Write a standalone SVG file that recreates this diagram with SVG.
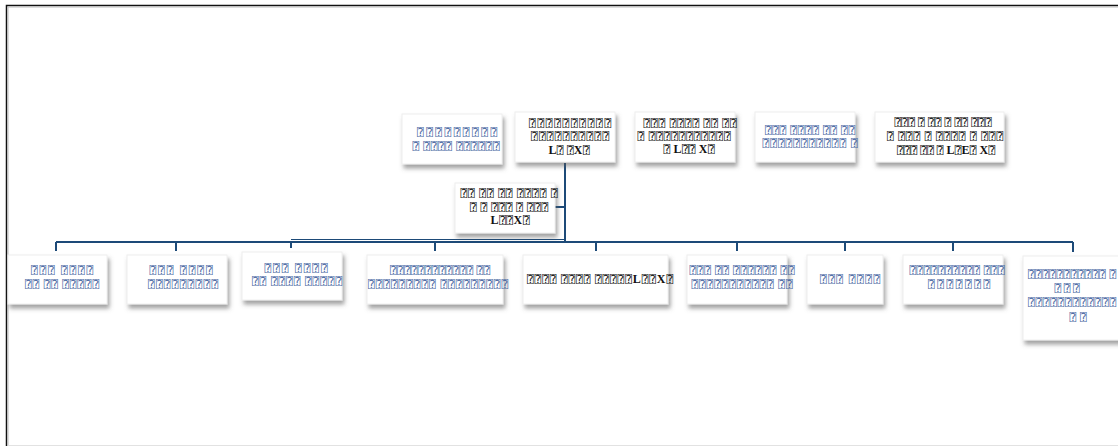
<svg xmlns="http://www.w3.org/2000/svg" width="1118" height="446" viewBox="0 0 1118 446">
<defs>
<filter id="sh" x="-20%" y="-20%" width="140%" height="160%">
<feDropShadow dx="2" dy="4" stdDeviation="2" flood-color="#555" flood-opacity="0.55"/>
</filter>
<style>
.box{fill:#fff;stroke:#eeeeee;stroke-width:1;filter:url(#sh)}
text{font-family:"Liberation Serif","DejaVu Sans Mono",serif;font-size:11px;text-anchor:middle}
.b{fill:#4a68a3}
.k{fill:#111}
.bd{font-weight:bold;font-size:12px}
.s{text-anchor:start}
.c{fill:none;stroke:#1d4a78;stroke-width:2}
</style>
</defs>
<rect width="1118" height="446" fill="#fff"/>
<path d="M6.5,446 V5.5 H1118" fill="none" stroke="#111" stroke-width="1.5"/>
<path d="M8,446 V7 H1118" fill="none" stroke="#bbb" stroke-width="1"/>
<line x1="8" y1="445.5" x2="1118" y2="445.5" stroke="#e2e2e2" stroke-width="1"/>

<g id="connectors">
<path class="c" d="M565,163 V242"/>
<path class="c" d="M555,207 H565"/>
<path class="c" d="M56,242 H1073"/>
<path d="M291,239.5 H565" fill="none" stroke="#1d4a78" stroke-width="1.2"/>
<path class="c" d="M56,242 V251 M176,242 V251 M291,242 V248 M435,242 V251 M596,242 V251 M737,242 V251 M845,242 V251 M953,242 V251 M1073,242 V252"/>
</g>

<g id="top1"><rect class="box" x="402" y="114" width="100" height="50"/>
<text class="b" x="457" y="136" textLength="80" lengthAdjust="spacing">⍰⍰⍰⍰⍰⍰⍰⍰⍰</text>
<text class="b" x="456" y="150" textLength="87" lengthAdjust="spacing">⍰ ⍰⍰⍰⍰ ⍰⍰⍰⍰⍰⍰</text></g>

<g id="top2"><rect class="box" x="515" y="112" width="100" height="50"/>
<text class="k" x="570" y="127" textLength="82" lengthAdjust="spacing">⍰⍰⍰⍰⍰⍰⍰⍰⍰⍰</text>
<text class="k" x="570" y="140" textLength="78" lengthAdjust="spacing">⍰⍰⍰⍰⍰⍰⍰⍰⍰⍰</text>
<text class="k" x="569" y="154" textLength="41" lengthAdjust="spacing"><tspan class="bd">L</tspan>⍰ ⍰<tspan class="bd">X</tspan>⍰</text></g>

<g id="top3"><rect class="box" x="635" y="112" width="100" height="50"/>
<text class="k" x="690" y="127" textLength="93" lengthAdjust="spacing">⍰⍰⍰ ⍰⍰⍰⍰ ⍰⍰ ⍰⍰</text>
<text class="k" x="684" y="140" textLength="93" lengthAdjust="spacing">⍰ ⍰⍰⍰⍰⍰⍰⍰⍰⍰⍰⍰</text>
<text class="k" x="689" y="153" textLength="51" lengthAdjust="spacing">⍰ <tspan class="bd">L</tspan>⍰⍰ <tspan class="bd">X</tspan>⍰</text></g>

<g id="top4"><rect class="box" x="755" y="112" width="100" height="50"/>
<text class="b" x="810" y="134" textLength="90" lengthAdjust="spacing">⍰⍰⍰ ⍰⍰⍰⍰ ⍰⍰ ⍰⍰</text>
<text class="b" x="810" y="147" textLength="95" lengthAdjust="spacing">⍰⍰⍰⍰⍰⍰⍰⍰⍰⍰⍰ ⍰</text></g>

<g id="top5"><rect class="box" x="875" y="112" width="129" height="50"/>
<text class="k" x="943" y="126" textLength="97" lengthAdjust="spacing">⍰⍰⍰ ⍰ ⍰⍰ ⍰ ⍰⍰ ⍰⍰⍰</text>
<text class="k" x="945" y="140" textLength="116" lengthAdjust="spacing">⍰ ⍰⍰⍰ ⍰ ⍰⍰⍰⍰ ⍰ ⍰⍰⍰</text>
<text class="k" x="946" y="154" textLength="98" lengthAdjust="spacing">⍰⍰⍰ ⍰⍰ ⍰ <tspan class="bd">L</tspan>⍰<tspan class="bd">E</tspan>⍰ <tspan class="bd">X</tspan>⍰</text></g>

<g id="mid"><rect class="box" x="455" y="183" width="100" height="50"/>
<text class="k" x="509" y="197" textLength="97" lengthAdjust="spacing">⍰⍰ ⍰⍰ ⍰⍰ ⍰⍰⍰⍰ ⍰</text>
<text class="k" x="509" y="211" textLength="78" lengthAdjust="spacing">⍰ ⍰ ⍰⍰⍰ ⍰ ⍰⍰⍰</text>
<text class="k" x="510" y="224" textLength="39" lengthAdjust="spacing"><tspan class="bd">L</tspan>⍰⍰<tspan class="bd">X</tspan>⍰</text></g>

<g id="b1"><rect class="box" x="8" y="255" width="99" height="49"/>
<text class="b" x="62" y="274" textLength="62" lengthAdjust="spacing">⍰⍰⍰ ⍰⍰⍰⍰</text>
<text class="b" x="62" y="288" textLength="74" lengthAdjust="spacing">⍰⍰ ⍰⍰ ⍰⍰⍰⍰⍰</text></g>

<g id="b2"><rect class="box" x="127" y="255" width="100" height="49"/>
<text class="b" x="181" y="274" textLength="63" lengthAdjust="spacing">⍰⍰⍰ ⍰⍰⍰⍰</text>
<text class="b" x="183" y="288" textLength="70" lengthAdjust="spacing">⍰⍰⍰⍰⍰⍰⍰⍰⍰</text></g>

<g id="b3"><rect class="box" x="242" y="252" width="100" height="48"/>
<text class="b" x="296" y="272" textLength="63" lengthAdjust="spacing">⍰⍰⍰ ⍰⍰⍰⍰</text>
<text class="b" x="297" y="285" textLength="90" lengthAdjust="spacing">⍰⍰ ⍰⍰⍰⍰ ⍰⍰⍰⍰⍰</text></g>

<g id="b4"><rect class="box" x="367" y="255" width="136" height="49"/>
<text class="b" x="440" y="274" textLength="100" lengthAdjust="spacing">⍰⍰⍰⍰⍰⍰⍰⍰⍰⍰⍰⍰ ⍰⍰</text>
<text class="b" x="438" y="288" textLength="140" lengthAdjust="spacing">⍰⍰⍰⍰⍰⍰⍰⍰⍰ ⍰⍰⍰⍰⍰⍰⍰⍰⍰</text></g>

<g id="b5"><rect class="box" x="523" y="255" width="145" height="49"/>
<text class="k" x="600" y="283" textLength="146" lengthAdjust="spacing">⍰⍰⍰⍰ ⍰⍰⍰⍰ ⍰⍰⍰⍰⍰<tspan class="bd">L</tspan>⍰⍰<tspan class="bd">X</tspan>⍰</text></g>

<g id="b6"><rect class="box" x="687" y="255" width="100" height="49"/>
<text class="b" x="742" y="274" textLength="105" lengthAdjust="spacing">⍰⍰⍰ ⍰⍰ ⍰⍰⍰⍰⍰⍰ ⍰⍰</text>
<text class="b" x="742" y="288" textLength="101" lengthAdjust="spacing">⍰⍰⍰⍰⍰⍰⍰⍰⍰⍰⍰ ⍰⍰</text></g>

<g id="b7"><rect class="box" x="807" y="255" width="76" height="49"/>
<text class="b" x="850" y="283" textLength="60" lengthAdjust="spacing">⍰⍰⍰ ⍰⍰⍰⍰</text></g>

<g id="b8"><rect class="box" x="903" y="255" width="100" height="49"/>
<text class="b" x="957" y="274" textLength="95" lengthAdjust="spacing">⍰⍰⍰⍰⍰⍰⍰⍰⍰⍰ ⍰⍰⍰</text>
<text class="b" x="959" y="288" textLength="62" lengthAdjust="spacing">⍰⍰⍰⍰⍰⍰⍰</text></g>

<g id="b9"><rect class="box" x="1023" y="256" width="100" height="84"/>
<text class="b s" x="1028" y="278" textLength="88" lengthAdjust="spacing">⍰⍰⍰⍰⍰⍰⍰⍰⍰⍰⍰ ⍰</text>
<text class="b" x="1067" y="292" textLength="25" lengthAdjust="spacing">⍰⍰⍰</text>
<text class="b s" x="1028" y="306" textLength="88" lengthAdjust="spacing">⍰⍰⍰⍰⍰⍰⍰⍰⍰⍰⍰⍰</text>
<text class="b" x="1078" y="321" textLength="17" lengthAdjust="spacing">⍰⍰</text></g>
</svg>
